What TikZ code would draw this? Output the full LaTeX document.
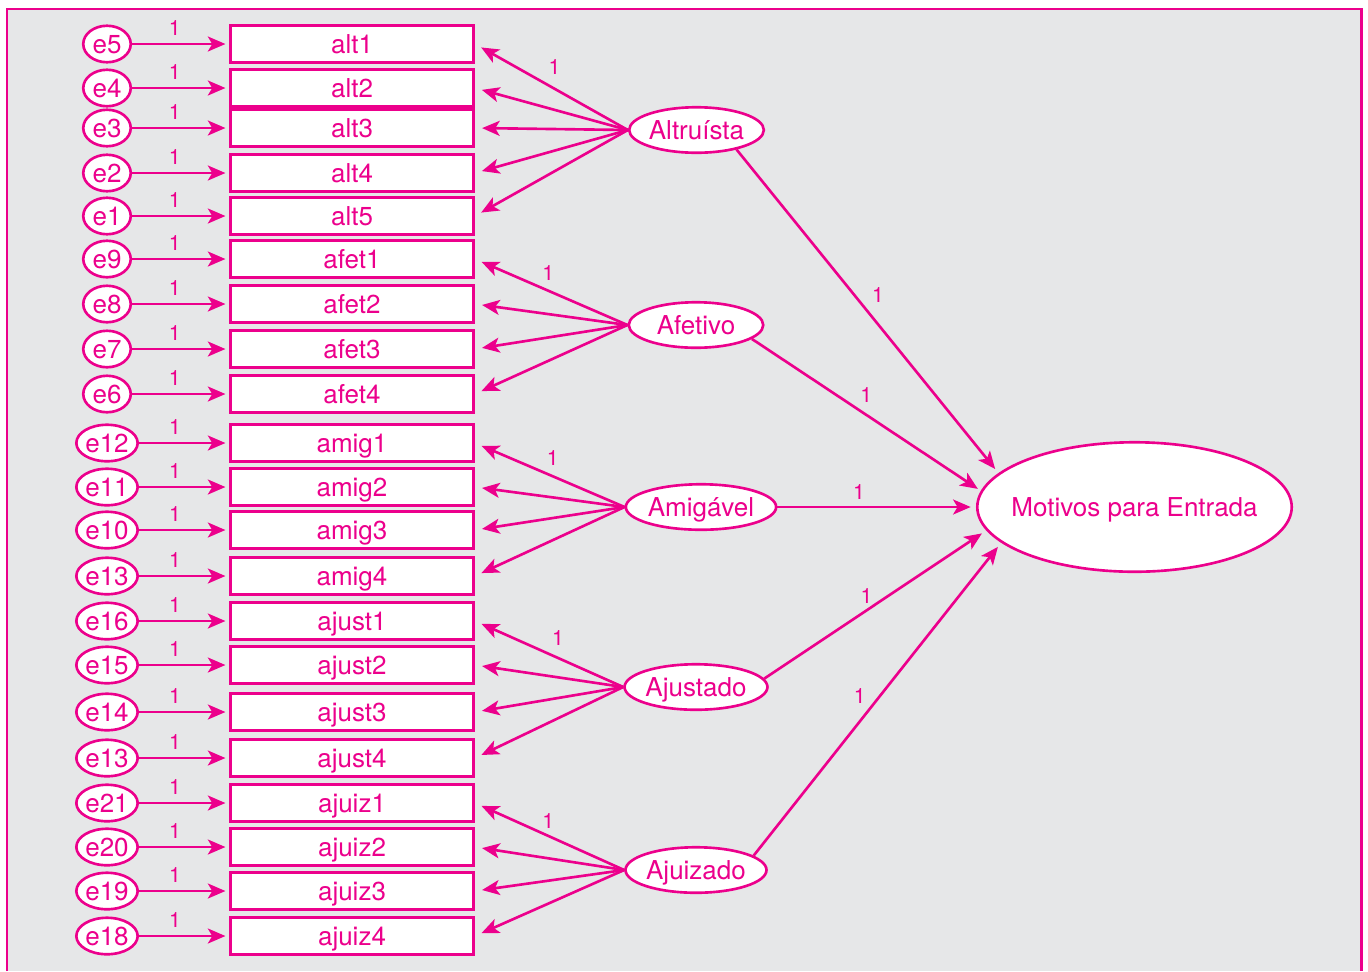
\documentclass[tikz,border=0pt]{standalone}
\usepackage{fontspec}
\setmainfont{TeX Gyre Heros}
\usetikzlibrary{shapes.geometric}
\usetikzlibrary{arrows.meta}
\definecolor{amospink}{HTML}{EC008C}
\definecolor{fundo}{HTML}{E6E7E8}
\tikzset{x=0.02cm, y=-0.02cm,
    every node/.style={
        text=amospink,
        font=\fontsize{14.8}{16}\selectfont},
    item/.style={
        draw=amospink, fill=white,
        line width=1.5pt,
        minimum width=4.87cm,
        minimum height=0.73cm,
        text height=10.6pt, text depth=0pt,
        inner sep=0pt},
    erro/.style={
        ellipse, draw=amospink, fill=white,
        line width=1.5pt,
        minimum width=0.95cm,
        minimum height=0.73cm,
        text height=10.6pt, text depth=0pt,
        inner sep=0pt},
    fator/.style={
        ellipse, draw=amospink, fill=white,
        line width=1.5pt,
        minimum width=2.69cm,
        minimum height=0.91cm,
        text height=10.6pt, text depth=0pt,
        inner sep=0pt},
    peso/.style={
        font=\fontsize{12}{12}\selectfont},
    every edge/.style={
        draw=amospink,
        -{Stealth[length=10pt,width=8.5pt,inset=2.5pt]},
        line width=1.5pt,
        shorten >=4pt}}

\begin{document}
\begin{tikzpicture}
        \useasboundingbox (0,0) rectangle (1368,971);
        \fill[fundo] (7,9) rectangle (1361,971);
        \draw[amospink, line width=1.7pt] (7,971) -- (7,9) -- (1361,9) -- (1361,971);

        % itens
        \node[item] (alt1) at (352,44) {alt1};
        \node[item] (alt2) at (352,88) {alt2};
        \node[item] (alt3) at (352,128) {alt3};
        \node[item] (alt4) at (352,173) {alt4};
        \node[item] (alt5) at (352,216) {alt5};
        \node[item] (afet1) at (352,259) {afet1};
        \node[item] (afet2) at (352,304) {afet2};
        \node[item] (afet3) at (352,349) {afet3};
        \node[item] (afet4) at (352,394) {afet4};
        \node[item] (amig1) at (352,443) {amig1};
        \node[item] (amig2) at (352,487) {amig2};
        \node[item] (amig3) at (352,530) {amig3};
        \node[item] (amig4) at (352,576) {amig4};
        \node[item] (ajust1) at (352,621) {ajust1};
        \node[item] (ajust2) at (352,665) {ajust2};
        \node[item] (ajust3) at (352,712) {ajust3};
        \node[item] (ajust4) at (352,758) {ajust4};
        \node[item] (ajuiz1) at (352,803) {ajuiz1};
        \node[item] (ajuiz2) at (352,847) {ajuiz2};
        \node[item] (ajuiz3) at (352,891) {ajuiz3};
        \node[item] (ajuiz4) at (352,936) {ajuiz4};

        % erros
        \node[erro] (e5) at (107,44) {e5};
        \node[erro] (e4) at (107,88) {e4};
        \node[erro] (e3) at (107,128) {e3};
        \node[erro] (e2) at (107,173) {e2};
        \node[erro] (e1) at (107,216) {e1};
        \node[erro] (e9) at (107,259) {e9};
        \node[erro] (e8) at (107,304) {e8};
        \node[erro] (e7) at (107,349) {e7};
        \node[erro] (e6) at (107,394) {e6};
        \node[erro] (e12) at (107,443) {e12};
        \node[erro] (e11) at (107,487) {e11};
        \node[erro] (e10) at (107,530) {e10};
        \node[erro] (e13a) at (107,576) {e13};
        \node[erro] (e16) at (107,621) {e16};
        \node[erro] (e15) at (107,665) {e15};
        \node[erro] (e14) at (107,712) {e14};
        \node[erro] (e13b) at (107,758) {e13};
        \node[erro] (e21) at (107,803) {e21};
        \node[erro] (e20) at (107,847) {e20};
        \node[erro] (e19) at (107,891) {e19};
        \node[erro] (e18) at (107,936) {e18};

        % fatores
        \node[fator] (altruista) at (696.5,130) {Altruísta};
        \node[fator] (afetivo) at (696,325) {Afetivo};
        \node[fator, minimum width=2.91cm] (amigavel) at (701,507) {Amigável};
        \node[fator] (ajustado) at (696,687) {Ajustado};
        \node[fator] (ajuizado) at (696,870) {Ajuizado};
        \node[fator, inner xsep=-9pt,
              minimum width=6.29cm, minimum height=2.59cm] (motivos) at (1134.5,507) {Motivos para Entrada};

        \draw (e5) edge[shorten >=2pt] node[peso, pos=0.44, above=1pt] {1} (alt1);
        \draw (e4) edge[shorten >=2pt] node[peso, pos=0.44, above=1pt] {1} (alt2);
        \draw (e3) edge[shorten >=2pt] node[peso, pos=0.44, above=1pt] {1} (alt3);
        \draw (e2) edge[shorten >=2pt] node[peso, pos=0.44, above=1pt] {1} (alt4);
        \draw (e1) edge[shorten >=2pt] node[peso, pos=0.44, above=1pt] {1} (alt5);
        \draw (e9) edge[shorten >=2pt] node[peso, pos=0.44, above=1pt] {1} (afet1);
        \draw (e8) edge[shorten >=2pt] node[peso, pos=0.44, above=1pt] {1} (afet2);
        \draw (e7) edge[shorten >=2pt] node[peso, pos=0.44, above=1pt] {1} (afet3);
        \draw (e6) edge[shorten >=2pt] node[peso, pos=0.44, above=1pt] {1} (afet4);
        \draw (e12) edge[shorten >=2pt] node[peso, pos=0.4, above=1pt] {1} (amig1);
        \draw (e11) edge[shorten >=2pt] node[peso, pos=0.4, above=1pt] {1} (amig2);
        \draw (e10) edge[shorten >=2pt] node[peso, pos=0.4, above=1pt] {1} (amig3);
        \draw (e13a) edge[shorten >=2pt] node[peso, pos=0.4, above=1pt] {1} (amig4);
        \draw (e16) edge[shorten >=2pt] node[peso, pos=0.4, above=1pt] {1} (ajust1);
        \draw (e15) edge[shorten >=2pt] node[peso, pos=0.4, above=1pt] {1} (ajust2);
        \draw (e14) edge[shorten >=2pt] node[peso, pos=0.4, above=1pt] {1} (ajust3);
        \draw (e13b) edge[shorten >=2pt] node[peso, pos=0.4, above=1pt] {1} (ajust4);
        \draw (e21) edge[shorten >=2pt] node[peso, pos=0.4, above=1pt] {1} (ajuiz1);
        \draw (e20) edge[shorten >=2pt] node[peso, pos=0.4, above=1pt] {1} (ajuiz2);
        \draw (e19) edge[shorten >=2pt] node[peso, pos=0.4, above=1pt] {1} (ajuiz3);
        \draw (e18) edge[shorten >=2pt] node[peso, pos=0.4, above=1pt] {1} (ajuiz4);

        \draw (altruista.west) edge node[peso, pos=0.48, above=4pt] {1} (alt1.east)
            edge (alt2.east) edge (alt3.east) edge (alt4.east) edge (alt5.east);
        \draw (afetivo.west) edge node[peso, pos=0.52, above=2pt] {1} (afet1.east)
            edge (afet2.east) edge (afet3.east) edge (afet4.east);
        \draw (amigavel.west) edge node[peso, pos=0.48, above=2pt] {1} (amig1.east)
            edge (amig2.east) edge (amig3.east) edge (amig4.east);
        \draw (ajustado.west) edge node[peso, pos=0.44, above=3pt] {1} (ajust1.east)
            edge (ajust2.east) edge (ajust3.east) edge (ajust4.east);
        \draw (ajuizado.west) edge node[peso, pos=0.51, above=0pt] {1} (ajuiz1.east)
            edge (ajuiz2.east) edge (ajuiz3.east) edge (ajuiz4.east);

        \draw (altruista.-26) edge[shorten >=3pt] node[peso, pos=0.45, right=6pt] {1} (motivos.166.6);
        \draw (afetivo.-14) edge[shorten >=2pt] node[peso, pos=0.5, above=3pt] {1} (motivos.174.1);
        \draw (amigavel.east) edge[shorten >=3pt] node[peso, pos=0.41, above=0pt] {1} (motivos.west);
        \draw (ajustado.7) edge[shorten >=3pt] node[peso, pos=0.46, above=0pt] {1} (motivos.-171.7);
        \draw (ajuizado.14.7) edge[shorten >=3pt] node[peso, pos=0.51, left=4pt] {1} (motivos.-165);
\end{tikzpicture}
\end{document}
